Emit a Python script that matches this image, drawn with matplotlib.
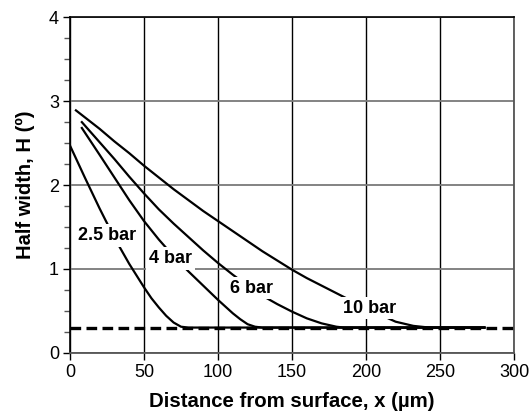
import matplotlib
matplotlib.use("Agg")
import matplotlib.pyplot as plt
from matplotlib.ticker import MultipleLocator

plt.rcParams['font.family'] = ['Liberation Sans', 'DejaVu Sans']

# Half width H (deg) versus distance from surface x (um), per shot pressure
x_25 = [0, 10, 20, 30, 40, 45, 50, 55, 60, 65, 70, 75, 80, 280]
h_25 = [2.47, 2.09, 1.72, 1.37, 1.06, 0.92, 0.78, 0.65, 0.54, 0.44, 0.36, 0.31, 0.30, 0.30]

x_4 = [8, 20, 30, 40, 50, 60, 70, 80, 90, 100, 110, 115, 120, 125, 130, 280]
h_4 = [2.68, 2.36, 2.09, 1.82, 1.57, 1.35, 1.15, 0.97, 0.80, 0.63, 0.47, 0.40, 0.34, 0.31, 0.30, 0.30]

x_6 = [8, 20, 30, 40, 50, 60, 70, 80, 90, 100, 110, 120, 130, 140, 150, 160, 170, 180, 185, 280]
h_6 = [2.75, 2.51, 2.31, 2.10, 1.90, 1.71, 1.54, 1.38, 1.22, 1.07, 0.93, 0.80, 0.68, 0.58, 0.49, 0.41, 0.35, 0.31, 0.30, 0.30]

x_10 = [4, 20, 30, 40, 50, 60, 70, 80, 90, 100, 110, 120, 130, 140, 150, 160, 170, 180, 185,
        190, 200, 210, 215, 220, 232, 240, 245, 280]
h_10 = [2.89, 2.67, 2.52, 2.38, 2.23, 2.09, 1.95, 1.82, 1.69, 1.57, 1.45, 1.33, 1.21, 1.10, 0.99,
        0.89, 0.80, 0.71, 0.665, 0.62, 0.54, 0.46, 0.41, 0.37, 0.32, 0.305, 0.30, 0.30]

# Untreated reference level
base_x = [0, 300]
base_h = [0.30, 0.30]

labels = ["2.5 bar", "4 bar", "6 bar", "10 bar"]
label_x = [25, 68, 122.5, 202.5]
label_h = [1.40, 1.125, 0.77, 0.53]

fig = plt.figure(figsize=(5.30, 4.19), dpi=100)
ax = fig.add_axes([0.1321, 0.1582, 0.8377, 0.8005])

ax.set_xlim(0, 300)
ax.set_ylim(0, 4)
ax.xaxis.set_major_locator(MultipleLocator(50))
ax.yaxis.set_major_locator(MultipleLocator(1))
ax.yaxis.set_minor_locator(MultipleLocator(0.25))

ax.grid(axis='x', which='major', color='black', lw=1.0, zorder=1)
ax.grid(axis='y', which='major', color='#7a7a7a', lw=1.3, zorder=1)
ax.set_axisbelow(True)

for s in ['left', 'top']:
    ax.spines[s].set_color('black')
    ax.spines[s].set_linewidth(1.2)
for s in ['right', 'bottom']:
    ax.spines[s].set_color('#555555')
    ax.spines[s].set_linewidth(1.3)

ax.tick_params(axis='both', which='major', direction='out', length=5, width=1.0,
               labelsize=13, colors='black', pad=3)
ax.tick_params(axis='y', which='minor', direction='out', length=4, width=1.0, colors='#555555')
ax.tick_params(axis='x', which='minor', length=0)

ax.plot(base_x, base_h, color='black', lw=2.4, dashes=(3.2, 1.6), zorder=3, solid_capstyle='butt')
for xs, hs in [(x_25, h_25), (x_4, h_4), (x_6, h_6), (x_10, h_10)]:
    ax.plot(xs, hs, color='black', lw=1.6, zorder=4)

for t, lx, lh in zip(labels, label_x, label_h):
    ax.text(lx, lh, t, ha='center', va='center', fontsize=13, fontweight='bold', zorder=6,
            bbox=dict(boxstyle='square,pad=0.15', fc='white', ec='none'))

ax.set_xlabel('Distance from surface, x (µm)', fontsize=14.7, fontweight='bold', labelpad=8)
ax.set_ylabel('Half width, H (º)', fontsize=14.5, fontweight='bold', labelpad=10)

fig.savefig('out.png', dpi=100)
